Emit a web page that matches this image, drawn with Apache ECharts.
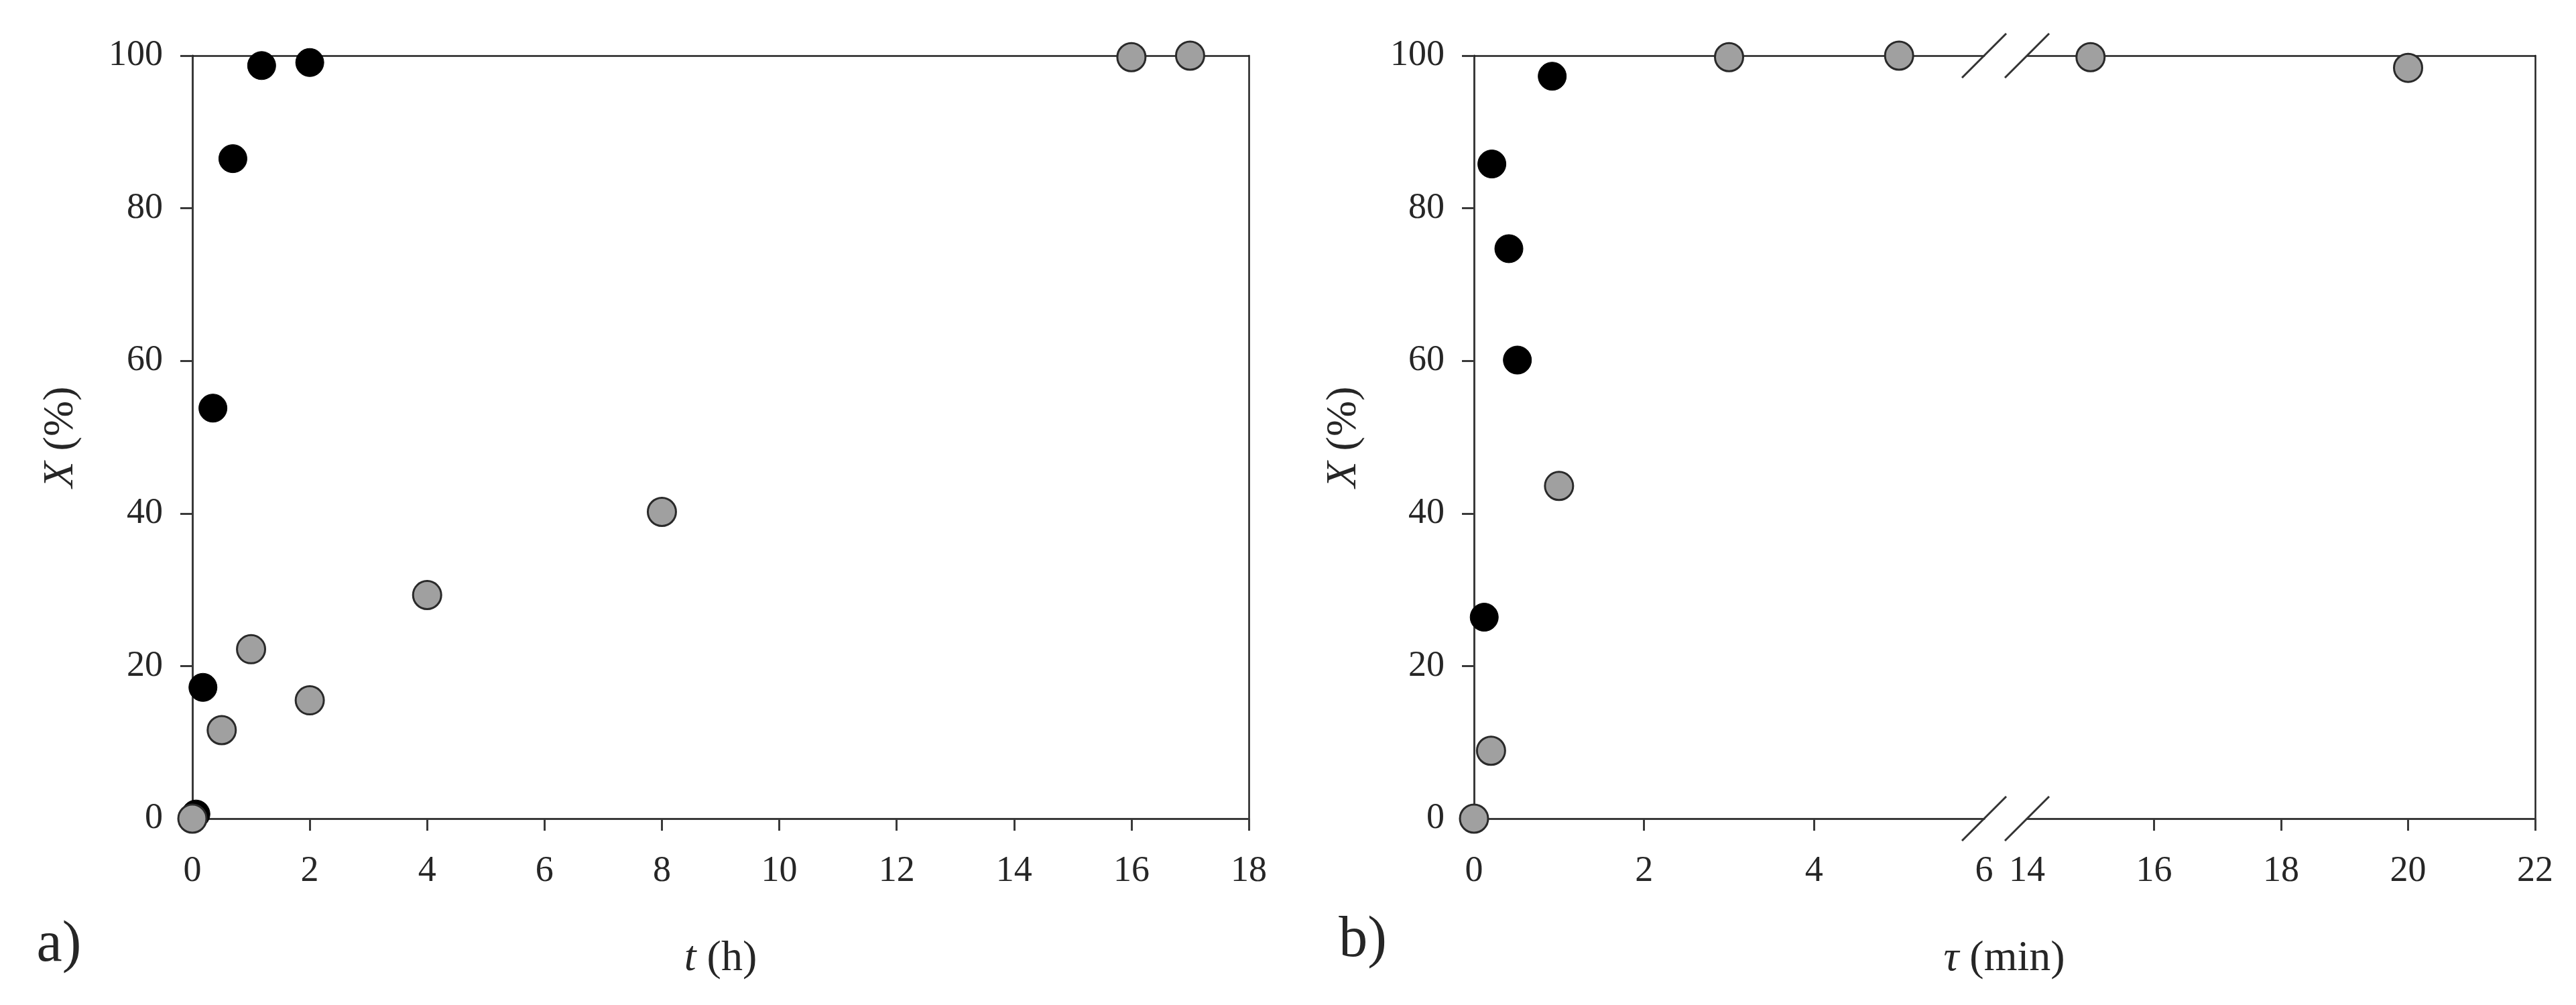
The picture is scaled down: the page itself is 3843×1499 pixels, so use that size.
<!DOCTYPE html>
<html><head><meta charset="utf-8">
<script src="https://cdn.jsdelivr.net/npm/echarts@6/dist/echarts.min.js"></script>
<style>html,body{margin:0;padding:0;background:#fff}#c{width:3843px;height:1499px}</style>
</head><body><div id="c"></div>
<script>
// ---- data: panel a) X (%) vs t (h)
const aBlackT = [0.06, 0.18, 0.35, 0.69, 1.18, 2.0];
const aBlackX = [0.6, 17.2, 53.8, 86.5, 98.7, 99.1];
const aGrayT  = [0, 0.5, 1, 2, 4, 8, 16, 17];
const aGrayX  = [0, 11.6, 22.2, 15.5, 29.3, 40.2, 99.8, 100];
// ---- data: panel b) X (%) vs tau (min)
const bBlackTau = [0.12, 0.21, 0.41, 0.51, 0.92];
const bBlackX   = [26.4, 85.8, 74.7, 60.1, 97.3];
const bGrayTau  = [0, 0.2, 1, 3, 5, 15, 20];
const bGrayX    = [0, 8.9, 43.6, 99.8, 100, 99.8, 98.4];
// ---- ticks
const yTicks = [0, 20, 40, 60, 80, 100];
const aXTicks = [0, 2, 4, 6, 8, 10, 12, 14, 16, 18];
const bLowTicks = [0, 2, 4, 6];
const bHighTicks = [14, 16, 18, 20, 22];

const FONT = "'Liberation Serif', 'DejaVu Serif', serif";
const AX = '#3a3a3a', TXT = '#262626';
const TICKFS = 54, TITLEFS = 64;

const pairs = (xs, ys) => xs.map((x, i) => [x, ys[i]]);
const bBlack = pairs(bBlackTau, bBlackX);
const bGray = pairs(bGrayTau, bGrayX);

const G = [
  {left: 287, top: 83, width: 1576, height: 1138},
  {left: 2199, top: 83, width: 761, height: 1138},
  {left: 3024, top: 83, width: 758, height: 1138}
];

function bottomX(gi, ticks, tickVals) {
  return {
    type: 'value', gridIndex: gi, position: 'bottom',
    min: ticks[0], max: ticks[ticks.length - 1], interval: 2,
    axisLine: {show: true, onZero: false, lineStyle: {color: AX, width: 3}},
    axisTick: {show: true, inside: false, length: 18, lineStyle: {color: AX, width: 3}, customValues: tickVals},
    axisLabel: {show: true, margin: 52, fontSize: TICKFS, fontFamily: FONT, color: TXT, customValues: ticks},
    splitLine: {show: false}
  };
}
function topX(gi, ticks) {
  return {
    type: 'value', gridIndex: gi, position: 'top',
    min: ticks[0], max: ticks[ticks.length - 1],
    axisLine: {show: true, onZero: false, lineStyle: {color: '#222', width: 2.5}},
    axisTick: {show: false}, axisLabel: {show: false}, splitLine: {show: false}
  };
}
function leftY(gi, visible) {
  return {
    type: 'value', gridIndex: gi, position: 'left', show: visible,
    min: 0, max: 100, interval: 20,
    axisLine: {show: true, onZero: false, lineStyle: {color: AX, width: 3}},
    axisTick: {show: true, inside: false, length: 18, lineStyle: {color: AX, width: 3}},
    axisLabel: {show: true, margin: 44, fontSize: TICKFS, fontFamily: FONT, color: TXT, customValues: yTicks},
    splitLine: {show: false}
  };
}
function rightY(gi) {
  return {
    type: 'value', gridIndex: gi, position: 'right',
    min: 0, max: 100,
    axisLine: {show: true, onZero: false, lineStyle: {color: '#222', width: 2.5}},
    axisTick: {show: false}, axisLabel: {show: false}, splitLine: {show: false}
  };
}

const blackStyle = {color: '#000', borderColor: '#000', borderWidth: 1, opacity: 1};
const grayStyle = {color: '#a0a0a0', borderColor: '#2a2a2a', borderWidth: 3, opacity: 1};
function sc(xi, yi, data, style, z) {
  return {type: 'scatter', xAxisIndex: xi, yAxisIndex: yi, data: data, symbol: 'circle',
    symbolSize: 42, itemStyle: style, clip: false, z: z, animation: false, silent: true};
}

const chart = echarts.init(document.getElementById('c'), null, {renderer: 'canvas'});
const option = {
  backgroundColor: '#fff',
  animation: false,
  grid: G,
  xAxis: [
    bottomX(0, aXTicks, aXTicks.slice(1)), topX(0, aXTicks),
    bottomX(1, bLowTicks, [2, 4]), topX(1, bLowTicks),
    bottomX(2, bHighTicks, [16, 18, 20, 22]), topX(2, bHighTicks)
  ],
  yAxis: [
    leftY(0, true), rightY(0),
    leftY(1, true),
    leftY(2, false), rightY(2)
  ],
  series: [
    sc(0, 0, pairs(aBlackT, aBlackX), blackStyle, 2),
    sc(0, 0, pairs(aGrayT, aGrayX), grayStyle, 3),
    sc(2, 2, bBlack.filter(p => p[0] <= 6), blackStyle, 2),
    sc(2, 2, bGray.filter(p => p[0] <= 6), grayStyle, 3),
    sc(4, 3, bBlack.filter(p => p[0] >= 14), blackStyle, 2),
    sc(4, 3, bGray.filter(p => p[0] >= 14), grayStyle, 3)
  ]
};
chart.setOption(option);

// break marks, positioned from the axes
const pLowB = chart.convertToPixel({xAxisIndex: 2, yAxisIndex: 2}, [6, 0]);
const pLowT = chart.convertToPixel({xAxisIndex: 2, yAxisIndex: 2}, [6, 100]);
const pHighB = chart.convertToPixel({xAxisIndex: 4, yAxisIndex: 3}, [14, 0]);
const pHighT = chart.convertToPixel({xAxisIndex: 4, yAxisIndex: 3}, [14, 100]);
const H = 33;
function slash(p) {
  return {type: 'line', z: 50, shape: {x1: p[0] - H, y1: p[1] + H, x2: p[0] + H, y2: p[1] - H},
    style: {stroke: '#333', lineWidth: 3}};
}
function txt(x, y, text, size, rot, rich) {
  return {type: 'text', x: x, y: y, rotation: rot || 0, z: 50,
    style: {text: text, fontSize: size, fontFamily: FONT, fill: TXT, align: 'center', verticalAlign: 'middle',
      rich: rich || {}}};
}
const ital = {i: {fontStyle: 'italic', fontSize: TITLEFS, fontFamily: FONT, fill: TXT}};
chart.setOption({
  graphic: [
    slash(pLowB), slash(pLowT), slash(pHighB), slash(pHighT),
    txt(91, 652, '{i|X} (%)', TITLEFS, Math.PI / 2, ital),
    txt(2005, 652, '{i|X} (%)', TITLEFS, Math.PI / 2, ital),
    txt(1075, 1430, '{i|t} (h)', TITLEFS, 0, ital),
    txt(2990, 1430, '{i|τ} (min)', TITLEFS, 0, ital),
    txt(88, 1410, 'a)', 86, 0),
    txt(2033, 1403, 'b)', 86, 0)
  ]
});
</script></body></html>
